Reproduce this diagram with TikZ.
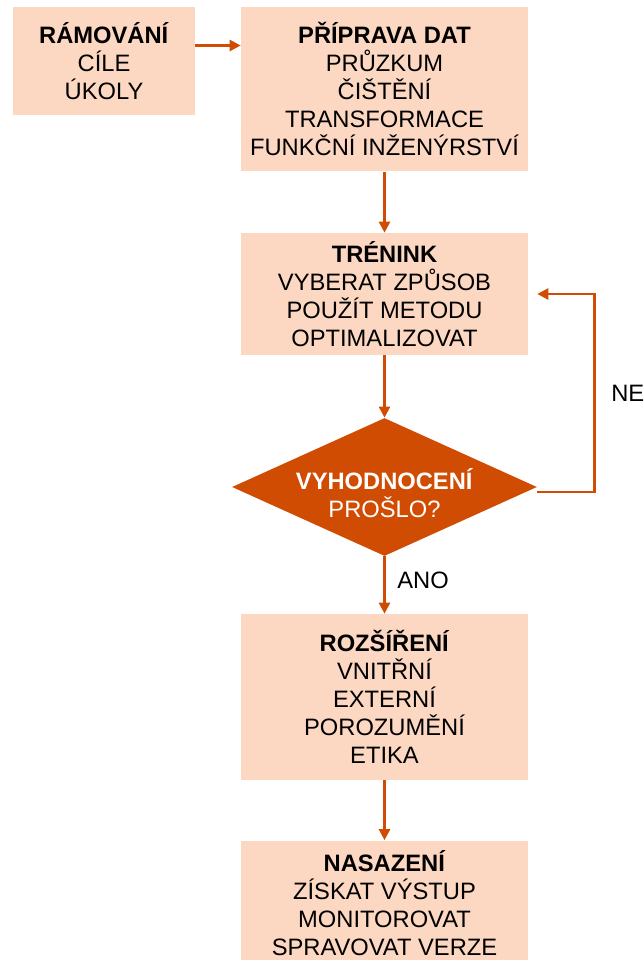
\documentclass[tikz,border=0pt]{standalone}
\usepackage{fontspec}
\setmainfont{Liberation Sans}
\usepackage{tikz}
\usepackage{xcolor}
\usetikzlibrary{shapes.geometric,arrows.meta}

\definecolor{peach}{RGB}{252,215,194}
\definecolor{burnt}{RGB}{208,76,2}

\tikzset{
  stage/.style={fill=peach, align=center, inner sep=0pt, minimum width=5.74cm},
  decide/.style={diamond, fill=burnt, inner sep=0pt, aspect=2.24},
  decidetext/.style={text=white, align=center, inner sep=0pt, yshift=-0.13cm},
  flow/.style={draw=burnt, line width=1.4pt, -{Triangle[length=2.2mm,width=2.2mm]}},
  tag/.style={inner sep=0pt}
}

\begin{document}
\begin{tikzpicture}[x=0.02cm, y=-0.02cm, font=\fontsize{13.5}{16}\selectfont]
                \useasboundingbox (0,0) rectangle (643,960);

                % Boxes
                \node[stage, minimum width=3.64cm, minimum height=2.18cm] (frame) at (104,61)
                  {\textbf{RÁMOVÁNÍ}\\CÍLE\\ÚKOLY};
                \node[stage, minimum height=3.3cm] (prep) at (384.5,89)
                  {\textbf{PŘÍPRAVA DAT}\\PRŮZKUM\\ČIŠTĚNÍ\\TRANSFORMACE\\FUNKČNÍ INŽENÝRSTVÍ};
                \node[stage, minimum height=2.44cm] (train) at (384.5,294)
                  {\textbf{TRÉNINK}\\VYBERAT ZPŮSOB\\POUŽÍT METODU\\OPTIMALIZOVAT};
                \node[decide, minimum width=6.1cm, minimum height=2.76cm,
                      label={[decidetext]center:{\textbf{VYHODNOCENÍ}\\PROŠLO?}}] (eval) at (384.5,487) {};
                \node[stage, minimum height=3.32cm] (extend) at (384.5,697)
                  {\textbf{ROZŠÍŘENÍ}\\VNITŘNÍ\\EXTERNÍ\\POROZUMĚNÍ\\ETIKA};
                \node[stage, minimum height=2.5cm] (deploy) at (384.5,903)
                  {\textbf{NASAZENÍ}\\ZÍSKAT VÝSTUP\\MONITOROVAT\\SPRAVOVAT VERZE};

                % Labels
                \node[tag, anchor=west] (no) at (611,393) {NE};
                \node[tag, anchor=west] (yes) at (397,580) {ANO};

                % Arrows
                \draw[flow] ([yshift=0.31cm]frame.east) -- ([yshift=0.31cm]frame.east -| prep.west);
                \draw[flow] (prep.south) -- (train.north);
                \draw[flow] (train.south) -- (eval.north);
                \draw[flow] ([yshift=-0.1cm]eval.east) -- ++(57,0) |- ([xshift=0.18cm]train.east);
                \draw[flow] (eval.south) -- (extend.north);
                \draw[flow] (extend.south) -- (deploy.north);
            \end{tikzpicture}
\end{document}
